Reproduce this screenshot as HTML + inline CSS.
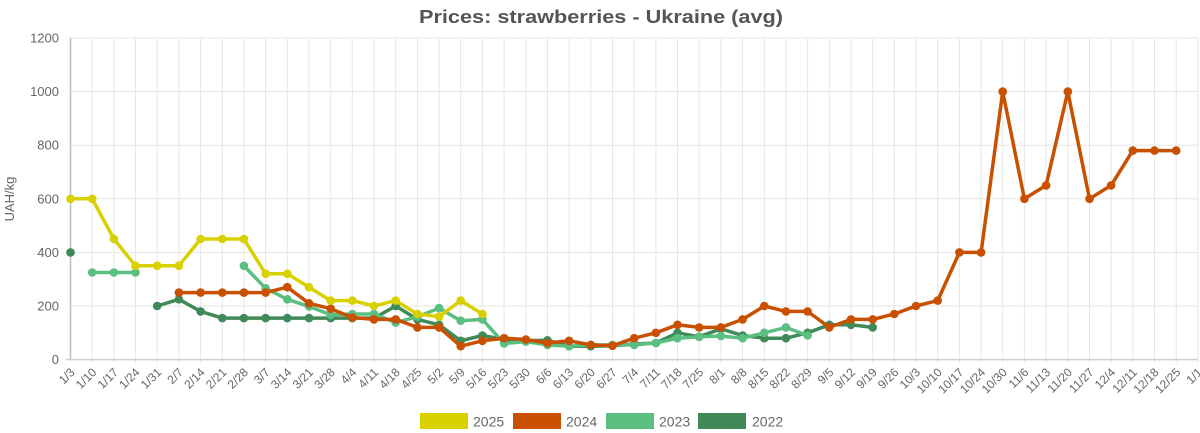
<!DOCTYPE html>
<html><head><meta charset="utf-8"><style>
html,body{margin:0;padding:0;background:#fff;width:1200px;height:433px;overflow:hidden}
svg{display:block;font-family:"Liberation Sans",sans-serif}
</style></head><body>
<svg width="1200" height="433" viewBox="0 0 1200 433" xmlns="http://www.w3.org/2000/svg">
<text x="601" y="23" text-anchor="middle" font-size="18" font-weight="bold" fill="#555" textLength="364" lengthAdjust="spacingAndGlyphs">Prices: strawberries - Ukraine (avg)</text>
<g stroke="#e6e6e6" stroke-width="1">
<line x1="70.5" y1="38" x2="1197.9" y2="38"/><line x1="70.5" y1="91.6" x2="1197.9" y2="91.6"/><line x1="70.5" y1="145.2" x2="1197.9" y2="145.2"/><line x1="70.5" y1="198.8" x2="1197.9" y2="198.8"/><line x1="70.5" y1="252.4" x2="1197.9" y2="252.4"/><line x1="70.5" y1="306" x2="1197.9" y2="306"/>
<path d="M92.2 38V363M113.9 38V363M135.5 38V363M157.2 38V363M178.9 38V363M200.6 38V363M222.3 38V363M243.9 38V363M265.6 38V363M287.3 38V363M309 38V363M330.7 38V363M352.3 38V363M374 38V363M395.7 38V363M417.4 38V363M439.1 38V363M460.7 38V363M482.4 38V363M504.1 38V363M525.8 38V363M547.5 38V363M569.1 38V363M590.8 38V363M612.5 38V363M634.2 38V363M655.9 38V363M677.5 38V363M699.2 38V363M720.9 38V363M742.6 38V363M764.3 38V363M785.9 38V363M807.6 38V363M829.3 38V363M851 38V363M872.7 38V363M894.3 38V363M916 38V363M937.7 38V363M959.4 38V363M981.1 38V363M1002.7 38V363M1024.4 38V363M1046.1 38V363M1067.8 38V363M1089.5 38V363M1111.1 38V363M1132.8 38V363M1154.5 38V363M1176.2 38V363M1197.9 38V363"/>
</g>
<line x1="70.5" y1="38" x2="70.5" y2="360" stroke="#bdbdbd" stroke-width="1.5"/>
<line x1="66" y1="359.6" x2="1197.9" y2="359.6" stroke="#cfcfcf" stroke-width="1.5"/>
<g font-size="13" fill="#666" text-anchor="end">
<text x="59" y="42.5">1200</text><text x="59" y="96.1">1000</text><text x="59" y="149.7">800</text><text x="59" y="203.3">600</text><text x="59" y="256.9">400</text><text x="59" y="310.5">200</text><text x="59" y="364.1">0</text>
</g>
<text transform="translate(14,199) rotate(-90)" text-anchor="middle" font-size="13" fill="#666">UAH/kg</text>
<g font-size="12" fill="#666" text-anchor="end">
<text transform="translate(75.5,373) rotate(-45)">1/3</text>
<text transform="translate(97.2,373) rotate(-45)">1/10</text>
<text transform="translate(118.9,373) rotate(-45)">1/17</text>
<text transform="translate(140.5,373) rotate(-45)">1/24</text>
<text transform="translate(162.2,373) rotate(-45)">1/31</text>
<text transform="translate(183.9,373) rotate(-45)">2/7</text>
<text transform="translate(205.6,373) rotate(-45)">2/14</text>
<text transform="translate(227.3,373) rotate(-45)">2/21</text>
<text transform="translate(248.9,373) rotate(-45)">2/28</text>
<text transform="translate(270.6,373) rotate(-45)">3/7</text>
<text transform="translate(292.3,373) rotate(-45)">3/14</text>
<text transform="translate(314,373) rotate(-45)">3/21</text>
<text transform="translate(335.7,373) rotate(-45)">3/28</text>
<text transform="translate(357.3,373) rotate(-45)">4/4</text>
<text transform="translate(379,373) rotate(-45)">4/11</text>
<text transform="translate(400.7,373) rotate(-45)">4/18</text>
<text transform="translate(422.4,373) rotate(-45)">4/25</text>
<text transform="translate(444.1,373) rotate(-45)">5/2</text>
<text transform="translate(465.7,373) rotate(-45)">5/9</text>
<text transform="translate(487.4,373) rotate(-45)">5/16</text>
<text transform="translate(509.1,373) rotate(-45)">5/23</text>
<text transform="translate(530.8,373) rotate(-45)">5/30</text>
<text transform="translate(552.5,373) rotate(-45)">6/6</text>
<text transform="translate(574.1,373) rotate(-45)">6/13</text>
<text transform="translate(595.8,373) rotate(-45)">6/20</text>
<text transform="translate(617.5,373) rotate(-45)">6/27</text>
<text transform="translate(639.2,373) rotate(-45)">7/4</text>
<text transform="translate(660.9,373) rotate(-45)">7/11</text>
<text transform="translate(682.5,373) rotate(-45)">7/18</text>
<text transform="translate(704.2,373) rotate(-45)">7/25</text>
<text transform="translate(725.9,373) rotate(-45)">8/1</text>
<text transform="translate(747.6,373) rotate(-45)">8/8</text>
<text transform="translate(769.3,373) rotate(-45)">8/15</text>
<text transform="translate(790.9,373) rotate(-45)">8/22</text>
<text transform="translate(812.6,373) rotate(-45)">8/29</text>
<text transform="translate(834.3,373) rotate(-45)">9/5</text>
<text transform="translate(856,373) rotate(-45)">9/12</text>
<text transform="translate(877.7,373) rotate(-45)">9/19</text>
<text transform="translate(899.3,373) rotate(-45)">9/26</text>
<text transform="translate(921,373) rotate(-45)">10/3</text>
<text transform="translate(942.7,373) rotate(-45)">10/10</text>
<text transform="translate(964.4,373) rotate(-45)">10/17</text>
<text transform="translate(986.1,373) rotate(-45)">10/24</text>
<text transform="translate(1007.7,373) rotate(-45)">10/30</text>
<text transform="translate(1029.4,373) rotate(-45)">11/6</text>
<text transform="translate(1051.1,373) rotate(-45)">11/13</text>
<text transform="translate(1072.8,373) rotate(-45)">11/20</text>
<text transform="translate(1094.5,373) rotate(-45)">11/27</text>
<text transform="translate(1116.1,373) rotate(-45)">12/4</text>
<text transform="translate(1137.8,373) rotate(-45)">12/11</text>
<text transform="translate(1159.5,373) rotate(-45)">12/18</text>
<text transform="translate(1181.2,373) rotate(-45)">12/25</text>
<text transform="translate(1202.9,373) rotate(-45)">1/1</text>
</g>

<!-- 2022 dark green -->
<g stroke="#3f8a58" fill="#3f8a58">
<polyline fill="none" stroke-width="3.5" stroke-linejoin="round" points="157.2,306.0 178.9,299.3 200.6,311.4 222.3,318.1 243.9,318.1 265.6,318.1 287.3,318.1 309.0,318.1 330.7,318.1 352.3,318.1 374.0,318.1 395.7,306.0 417.4,319.4 439.1,324.8 460.7,340.8 482.4,335.5 504.1,339.5 525.8,340.8 547.5,340.3 569.1,346.2 590.8,346.2 612.5,345.7 634.2,344.1 655.9,343.0 677.5,332.8 699.2,336.8 720.9,328.8 742.6,335.5 764.3,338.2 785.9,338.2 807.6,332.8 829.3,324.8 851.0,324.8 872.7,327.4"/>
<g stroke="none">
<circle cx="70.5" cy="252.4" r="4.3"/>
<circle cx="157.2" cy="306.0" r="4.3"/><circle cx="178.9" cy="299.3" r="4.3"/><circle cx="200.6" cy="311.4" r="4.3"/><circle cx="222.3" cy="318.1" r="4.3"/><circle cx="243.9" cy="318.1" r="4.3"/><circle cx="265.6" cy="318.1" r="4.3"/><circle cx="287.3" cy="318.1" r="4.3"/><circle cx="309.0" cy="318.1" r="4.3"/><circle cx="330.7" cy="318.1" r="4.3"/><circle cx="352.3" cy="318.1" r="4.3"/><circle cx="374.0" cy="318.1" r="4.3"/><circle cx="395.7" cy="306.0" r="4.3"/><circle cx="417.4" cy="319.4" r="4.3"/><circle cx="439.1" cy="324.8" r="4.3"/><circle cx="460.7" cy="340.8" r="4.3"/><circle cx="482.4" cy="335.5" r="4.3"/><circle cx="504.1" cy="339.5" r="4.3"/><circle cx="525.8" cy="340.8" r="4.3"/><circle cx="547.5" cy="340.3" r="4.3"/><circle cx="569.1" cy="346.2" r="4.3"/><circle cx="590.8" cy="346.2" r="4.3"/><circle cx="612.5" cy="345.7" r="4.3"/><circle cx="634.2" cy="344.1" r="4.3"/><circle cx="655.9" cy="343.0" r="4.3"/><circle cx="677.5" cy="332.8" r="4.3"/><circle cx="699.2" cy="336.8" r="4.3"/><circle cx="720.9" cy="328.8" r="4.3"/><circle cx="742.6" cy="335.5" r="4.3"/><circle cx="764.3" cy="338.2" r="4.3"/><circle cx="785.9" cy="338.2" r="4.3"/><circle cx="807.6" cy="332.8" r="4.3"/><circle cx="829.3" cy="324.8" r="4.3"/><circle cx="851.0" cy="324.8" r="4.3"/><circle cx="872.7" cy="327.4" r="4.3"/>
</g></g>

<!-- 2023 light green -->
<g stroke="#5cbf82" fill="#5cbf82">
<polyline fill="none" stroke-width="3.5" stroke-linejoin="round" points="92.2,272.5 113.9,272.5 135.5,272.5"/>
<polyline fill="none" stroke-width="3.5" stroke-linejoin="round" points="243.9,265.8 265.6,288.3 287.3,299.3 309.0,306.5 330.7,314.8 352.3,314.0 374.0,314.0 395.7,322.6 417.4,316.7 439.1,308.1 460.7,320.7 482.4,319.4 504.1,343.5 525.8,341.6 547.5,344.9 569.1,346.2 590.8,344.9 612.5,344.9 634.2,344.9 655.9,343.0 677.5,338.2 699.2,336.8 720.9,336.0 742.6,338.2 764.3,332.8 785.9,327.4 807.6,335.5"/>
<g stroke="none">
<circle cx="92.2" cy="272.5" r="4.3"/><circle cx="113.9" cy="272.5" r="4.3"/><circle cx="135.5" cy="272.5" r="4.3"/>
<circle cx="243.9" cy="265.8" r="4.3"/><circle cx="265.6" cy="288.3" r="4.3"/><circle cx="287.3" cy="299.3" r="4.3"/><circle cx="309.0" cy="306.5" r="4.3"/><circle cx="330.7" cy="314.8" r="4.3"/><circle cx="352.3" cy="314.0" r="4.3"/><circle cx="374.0" cy="314.0" r="4.3"/><circle cx="395.7" cy="322.6" r="4.3"/><circle cx="417.4" cy="316.7" r="4.3"/><circle cx="439.1" cy="308.1" r="4.3"/><circle cx="460.7" cy="320.7" r="4.3"/><circle cx="482.4" cy="319.4" r="4.3"/><circle cx="504.1" cy="343.5" r="4.3"/><circle cx="525.8" cy="341.6" r="4.3"/><circle cx="547.5" cy="344.9" r="4.3"/><circle cx="569.1" cy="346.2" r="4.3"/><circle cx="590.8" cy="344.9" r="4.3"/><circle cx="612.5" cy="344.9" r="4.3"/><circle cx="634.2" cy="344.9" r="4.3"/><circle cx="655.9" cy="343.0" r="4.3"/><circle cx="677.5" cy="338.2" r="4.3"/><circle cx="699.2" cy="336.8" r="4.3"/><circle cx="720.9" cy="336.0" r="4.3"/><circle cx="742.6" cy="338.2" r="4.3"/><circle cx="764.3" cy="332.8" r="4.3"/><circle cx="785.9" cy="327.4" r="4.3"/><circle cx="807.6" cy="335.5" r="4.3"/>
</g></g>

<!-- 2024 orange -->
<g stroke="#c95000" fill="#c95000">
<polyline fill="none" stroke-width="3.5" stroke-linejoin="round" points="178.9,292.6 200.6,292.6 222.3,292.6 243.9,292.6 265.6,292.6 287.3,287.2 309.0,303.3 330.7,308.7 352.3,317.5 374.0,319.4 395.7,319.4 417.4,327.4 439.1,327.4 460.7,346.2 482.4,340.8 504.1,338.2 525.8,339.5 547.5,343.0 569.1,340.8 590.8,344.9 612.5,345.7 634.2,338.2 655.9,332.8 677.5,324.8 699.2,327.4 720.9,327.4 742.6,319.4 764.3,306.0 785.9,311.4 807.6,311.4 829.3,327.4 851.0,319.4 872.7,319.4 894.3,314.0 916.0,306.0 937.7,300.6 959.4,252.4 981.1,252.4 1002.7,91.6 1024.4,198.8 1046.1,185.4 1067.8,91.6 1089.5,198.8 1111.1,185.4 1132.8,150.6 1154.5,150.6 1176.2,150.6"/>
<g stroke="none">
<circle cx="178.9" cy="292.6" r="4.3"/><circle cx="200.6" cy="292.6" r="4.3"/><circle cx="222.3" cy="292.6" r="4.3"/><circle cx="243.9" cy="292.6" r="4.3"/><circle cx="265.6" cy="292.6" r="4.3"/><circle cx="287.3" cy="287.2" r="4.3"/><circle cx="309.0" cy="303.3" r="4.3"/><circle cx="330.7" cy="308.7" r="4.3"/><circle cx="352.3" cy="317.5" r="4.3"/><circle cx="374.0" cy="319.4" r="4.3"/><circle cx="395.7" cy="319.4" r="4.3"/><circle cx="417.4" cy="327.4" r="4.3"/><circle cx="439.1" cy="327.4" r="4.3"/><circle cx="460.7" cy="346.2" r="4.3"/><circle cx="482.4" cy="340.8" r="4.3"/><circle cx="504.1" cy="338.2" r="4.3"/><circle cx="525.8" cy="339.5" r="4.3"/><circle cx="547.5" cy="343.0" r="4.3"/><circle cx="569.1" cy="340.8" r="4.3"/><circle cx="590.8" cy="344.9" r="4.3"/><circle cx="612.5" cy="345.7" r="4.3"/><circle cx="634.2" cy="338.2" r="4.3"/><circle cx="655.9" cy="332.8" r="4.3"/><circle cx="677.5" cy="324.8" r="4.3"/><circle cx="699.2" cy="327.4" r="4.3"/><circle cx="720.9" cy="327.4" r="4.3"/><circle cx="742.6" cy="319.4" r="4.3"/><circle cx="764.3" cy="306.0" r="4.3"/><circle cx="785.9" cy="311.4" r="4.3"/><circle cx="807.6" cy="311.4" r="4.3"/><circle cx="829.3" cy="327.4" r="4.3"/><circle cx="851.0" cy="319.4" r="4.3"/><circle cx="872.7" cy="319.4" r="4.3"/><circle cx="894.3" cy="314.0" r="4.3"/><circle cx="916.0" cy="306.0" r="4.3"/><circle cx="937.7" cy="300.6" r="4.3"/><circle cx="959.4" cy="252.4" r="4.3"/><circle cx="981.1" cy="252.4" r="4.3"/><circle cx="1002.7" cy="91.6" r="4.3"/><circle cx="1024.4" cy="198.8" r="4.3"/><circle cx="1046.1" cy="185.4" r="4.3"/><circle cx="1067.8" cy="91.6" r="4.3"/><circle cx="1089.5" cy="198.8" r="4.3"/><circle cx="1111.1" cy="185.4" r="4.3"/><circle cx="1132.8" cy="150.6" r="4.3"/><circle cx="1154.5" cy="150.6" r="4.3"/><circle cx="1176.2" cy="150.6" r="4.3"/>
</g></g>

<!-- 2025 yellow -->
<g stroke="#d9d000" fill="#d9d000">
<polyline fill="none" stroke-width="3.5" stroke-linejoin="round" points="70.5,198.8 92.2,198.8 113.9,239.0 135.5,265.8 157.2,265.8 178.9,265.8 200.6,239.0 222.3,239.0 243.9,239.0 265.6,273.8 287.3,273.8 309.0,287.2 330.7,300.6 352.3,300.6 374.0,306.0 395.7,300.6 417.4,314.0 439.1,316.7 460.7,300.6 482.4,314.0"/>
<g stroke="none">
<circle cx="70.5" cy="198.8" r="4.3"/><circle cx="92.2" cy="198.8" r="4.3"/><circle cx="113.9" cy="239.0" r="4.3"/><circle cx="135.5" cy="265.8" r="4.3"/><circle cx="157.2" cy="265.8" r="4.3"/><circle cx="178.9" cy="265.8" r="4.3"/><circle cx="200.6" cy="239.0" r="4.3"/><circle cx="222.3" cy="239.0" r="4.3"/><circle cx="243.9" cy="239.0" r="4.3"/><circle cx="265.6" cy="273.8" r="4.3"/><circle cx="287.3" cy="273.8" r="4.3"/><circle cx="309.0" cy="287.2" r="4.3"/><circle cx="330.7" cy="300.6" r="4.3"/><circle cx="352.3" cy="300.6" r="4.3"/><circle cx="374.0" cy="306.0" r="4.3"/><circle cx="395.7" cy="300.6" r="4.3"/><circle cx="417.4" cy="314.0" r="4.3"/><circle cx="439.1" cy="316.7" r="4.3"/><circle cx="460.7" cy="300.6" r="4.3"/><circle cx="482.4" cy="314.0" r="4.3"/>
</g></g>

<!-- legend -->
<g font-size="14" fill="#666">
<rect x="420" y="413" width="48" height="16" fill="#d9d000"/><text x="473" y="426.5">2025</text>
<rect x="513" y="413" width="48" height="16" fill="#c95000"/><text x="566" y="426.5">2024</text>
<rect x="606" y="413" width="48" height="16" fill="#5cbf82"/><text x="659" y="426.5">2023</text>
<rect x="698" y="413" width="48" height="16" fill="#3f8a58"/><text x="752" y="426.5">2022</text>
</g>
</svg>
</body></html>
